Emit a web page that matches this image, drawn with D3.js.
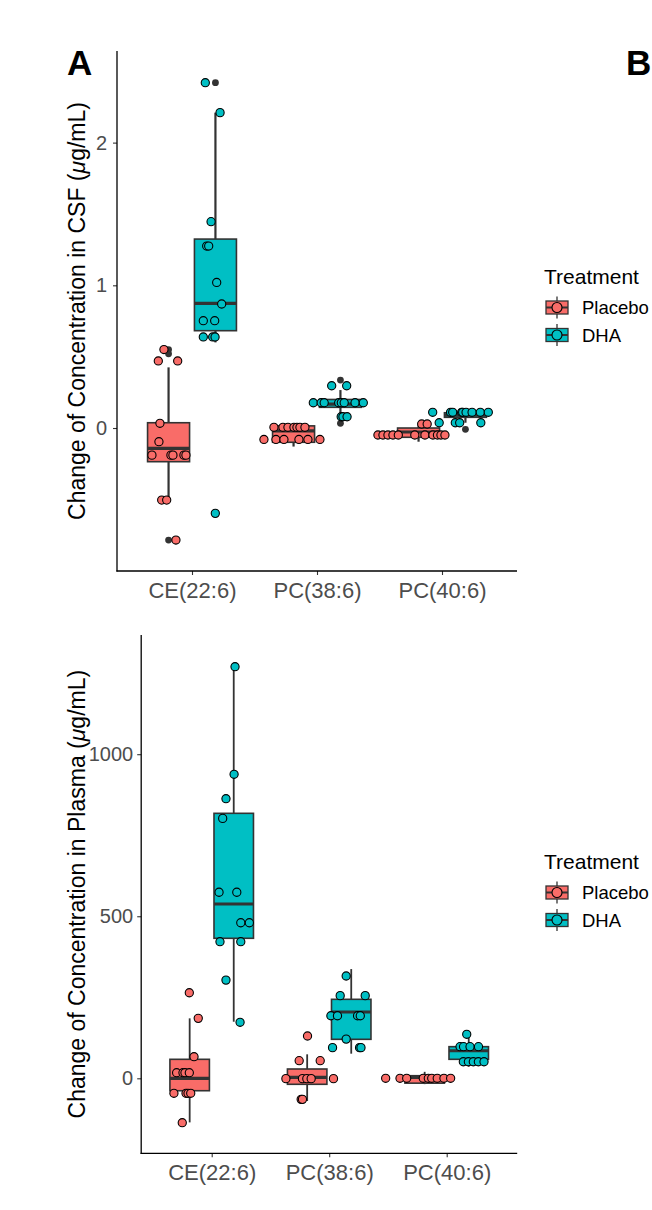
<!DOCTYPE html>
<html>
<head>
<meta charset="utf-8">
<script src="https://cdn.jsdelivr.net/npm/d3@7/dist/d3.min.js"></script>
<style>
  html, body { margin: 0; padding: 0; background: #fff; }
  svg { display: block; }
  text { font-family: "Liberation Sans", Arial, Helvetica, sans-serif; }
</style>
</head>
<body>
<svg id="chart" width="652" height="1210"></svg>
<script>
// ---------------- DATA ----------------
const categories = ["CE(22:6)", "PC(38:6)", "PC(40:6)"];
const treatments = ["Placebo", "DHA"];

// CSF panel: box stats [lowerWhisker, q1, median, q3, upperWhisker]
const csfPlaceboBox = [[-0.505, -0.236, -0.142, 0.037, 0.425], [-0.13, -0.1, -0.02, 0.015, 0.03], [-0.096, -0.065, -0.028, 0.0, 0.02]];
const csfDHABox = [[0.60, 0.682, 0.874, 1.324, 2.21], [0.068, 0.145, 0.168, 0.2, 0.266], [0.037, 0.075, 0.09, 0.107, 0.11]];
const csfPlaceboOutliers = [[0.55, 0.52, -0.785], [], []];
const csfDHAOutliers = [[2.42, -0.598], [0.336, 0.033], [-0.009]];
const csfPlaceboValues = [
  [0.55, 0.47, 0.47, 0.033, -0.096, -0.19, -0.19, -0.19, -0.19, -0.19, -0.505, -0.505, -0.785],
  [0.005, 0.005, 0.005, 0.005, 0.005, 0.005, 0.005, -0.08, -0.08, -0.08, -0.08, -0.08, -0.08],
  [-0.049, -0.049, -0.049, -0.049, -0.049, -0.049, -0.049, -0.049, -0.049, -0.049, -0.049, 0.028, 0.028]
];
const csfPlaceboJitter = [
  [-0.037, -0.082, 0.073, -0.069, -0.077, -0.133, 0.019, 0.035, 0.123, 0.139, -0.055, -0.015, 0.059],
  [-0.157, -0.085, -0.045, 0.003, 0.027, 0.051, 0.091, -0.237, -0.141, -0.077, 0.043, 0.115, 0.211],
  [-0.325, -0.285, -0.245, -0.205, -0.162, 0.051, 0.115, 0.151, 0.179, 0.211, -0.03, 0.025, 0.069]
];
const csfDHAValues = [
  [2.42, 2.21, 1.446, 1.275, 1.275, 1.02, 0.869, 0.752, 0.752, 0.638, 0.638, 0.638, -0.598],
  [0.296, 0.296, 0.177, 0.177, 0.177, 0.177, 0.177, 0.177, 0.177, 0.177, 0.079, 0.079, 0.079],
  [0.11, 0.11, 0.11, 0.11, 0.11, 0.11, 0.11, 0.11, 0.11, 0.037, 0.037, 0.037, 0.037]
];
const csfDHAJitter = [
  [-0.081, 0.037, -0.035, -0.07, -0.054, 0.01, 0.05, -0.097, -0.006, -0.097, -0.022, -0.003, -0.001],
  [-0.07, 0.05, -0.217, -0.154, -0.13, -0.014, 0.007, 0.03, 0.117, 0.183, 0.006, 0.02, 0.053],
  [-0.262, -0.119, -0.102, -0.03, -0.022, 0.005, 0.053, 0.119, 0.183, -0.21, -0.081, -0.046, 0.123]
];

// Plasma panel
const plasmaPlaceboBox = [[-136, -38.3, 0, 58.6, 185], [-70, -18.5, 3, 28.7, 74], [-18, -15, 3, 8, 20]];
const plasmaDHABox = [[174.6, 432, 537.8, 817.6, 1270], [76, 120.3, 204.6, 243.7, 337], [36, 58.6, 85, 97.6, 130]];
const plasmaPlaceboValues = [
  [264, 185, 66.7, 17.3, 17.3, 17.3, 17.3, -46.3, -46.3, -46.3, -46.3, -137],
  [130.5, 54.4, 54.4, -1, -1, -1, -1, -1, -65, -65],
  [0, 0, 0, 0, 0, 0, 0, 0, 0]
];
const plasmaPlaceboJitter = [
  [-0.003, 0.073, 0.037, -0.111, -0.057, -0.04, -0.003, -0.134, -0.031, -0.014, 0.009, -0.063],
  [0.003, -0.068, 0.111, -0.181, -0.04, -0.003, 0.034, 0.224, -0.051, -0.04],
  [-0.332, -0.21, -0.153, -0.012, 0.031, 0.06, 0.107, 0.164, 0.221]
];
const plasmaDHAValues = [
  [1270, 938, 862.7, 802, 574, 574, 480, 480, 421.5, 421.5, 303, 172.8],
  [315.6, 255, 255, 193, 193, 193, 193, 121, 94.6, 94.6, 94.6],
  [135.7, 97.6, 97.6, 97.6, 97.6, 51, 51, 51, 51, 51]
];
const plasmaDHAJitter = [
  [0.011, 0.003, -0.066, -0.094, -0.125, 0.026, 0.06, 0.133, -0.117, 0.06, -0.066, 0.054],
  [-0.043, -0.094, 0.119, -0.173, -0.117, 0.054, 0.077, -0.043, -0.159, 0.071, 0.083],
  [-0.017, -0.074, -0.044, 0.011, 0.083, -0.046, -0.003, 0.039, 0.082, 0.13]
];

const csfTicks = [0, 1, 2];
const plasmaTicks = [0, 500, 1000];

// ---------------- STYLE ----------------
const fillColor = { Placebo: "#F96C68", DHA: "#00BFC4" };
const darkGray = "#333333";
const tickGray = "#4D4D4D";

const svg = d3.select("#chart");

function drawPanel(cfg) {
  // ggplot discrete expansion: 0.6 units each side
  const xl = d3.scaleLinear().domain([0.4, 3.6]).range([cfg.left, cfg.right]);
  const xc = c => xl(categories.indexOf(c) + 1);
  const unit = xl(1) - xl(0);
  const y = d3.scaleLinear().domain(cfg.yDomain).range([cfg.bottom, cfg.top]);
  const dodge = { Placebo: -0.1875, DHA: 0.1875 };
  const boxHalf = cfg.boxWidth / 2;

  const g = svg.append("g");

  const groups = [];
  treatments.forEach(t => {
    categories.forEach((c, i) => {
      groups.push({
        t, c, i,
        box: cfg.box[t][i],
        out: cfg.out[t][i],
        vals: cfg.vals[t][i],
        jit: cfg.jit[t][i]
      });
    });
  });
  groups.sort((a, b) => a.i - b.i || treatments.indexOf(a.t) - treatments.indexOf(b.t));

  // Boxplot layer
  groups.forEach(gr => {
    const cx = xc(gr.c) + dodge[gr.t] * unit;
    const [lo, q1, med, q3, hi] = gr.box;
    const bg = g.append("g");
    bg.append("line").attr("x1", cx).attr("x2", cx).attr("y1", y(q3)).attr("y2", y(hi))
      .attr("stroke", darkGray).attr("stroke-width", cfg.whiskerWidth);
    bg.append("line").attr("x1", cx).attr("x2", cx).attr("y1", y(q1)).attr("y2", y(lo))
      .attr("stroke", darkGray).attr("stroke-width", cfg.whiskerWidth);
    bg.append("rect").attr("x", cx - boxHalf * unit).attr("width", 2 * boxHalf * unit)
      .attr("y", y(q3)).attr("height", Math.max(0.5, y(q1) - y(q3)))
      .attr("fill", fillColor[gr.t]).attr("stroke", darkGray).attr("stroke-width", 1.6);
    bg.append("line").attr("x1", cx - boxHalf * unit).attr("x2", cx + boxHalf * unit)
      .attr("y1", y(med)).attr("y2", y(med))
      .attr("stroke", darkGray).attr("stroke-width", 3.2);
    gr.out.forEach(v => {
      bg.append("circle").attr("cx", cx).attr("cy", y(v)).attr("r", 3.4).attr("fill", darkGray);
    });
  });

  // Jitter layer
  groups.forEach(gr => {
    const cx = xc(gr.c) + dodge[gr.t] * unit;
    gr.vals.forEach((v, k) => {
      g.append("circle").attr("cx", cx + gr.jit[k] * unit).attr("cy", y(v)).attr("r", 4.1)
        .attr("fill", fillColor[gr.t]).attr("stroke", "#000").attr("stroke-width", 1.1);
    });
  });

  // Axes
  const yAxis = d3.axisLeft(y).tickValues(cfg.ticks).tickSize(4).tickPadding(cfg.yPad).tickFormat(d3.format("d"));
  const ya = svg.append("g").attr("transform", `translate(${cfg.left},0)`).call(yAxis);
  ya.select(".domain").remove();
  ya.selectAll(".tick line").attr("stroke", darkGray).attr("stroke-width", 1.1);
  ya.selectAll(".tick text").attr("fill", tickGray).attr("font-size", 20)
    .attr("font-family", "'Liberation Sans', Arial, sans-serif");

  const xAxis = d3.axisBottom(xl).tickValues([1, 2, 3]).tickSize(4).tickPadding(7)
    .tickFormat(d => categories[d - 1]);
  const xa = svg.append("g").attr("transform", `translate(0,${cfg.bottom})`).call(xAxis);
  xa.select(".domain").remove();
  xa.selectAll(".tick line").attr("stroke", darkGray).attr("stroke-width", 1.1);
  xa.selectAll(".tick text").attr("fill", tickGray).attr("font-size", 22)
    .attr("font-family", "'Liberation Sans', Arial, sans-serif");

  // axis lines
  svg.append("line").attr("x1", cfg.left).attr("x2", cfg.left).attr("y1", cfg.top).attr("y2", cfg.bottom + 0.6)
    .attr("stroke", "#000").attr("stroke-width", 1.3);
  svg.append("line").attr("x1", cfg.left - 0.6).attr("x2", cfg.right).attr("y1", cfg.bottom).attr("y2", cfg.bottom)
    .attr("stroke", "#000").attr("stroke-width", 1.3);

  // y title
  const cy = (cfg.top + cfg.bottom) / 2;
  const tt = svg.append("text").attr("transform", `translate(84.5,${cy}) rotate(-90)`)
    .attr("text-anchor", "middle").attr("font-size", 23).attr("fill", "#000");
  tt.append("tspan").text(cfg.title + " (");
  tt.append("tspan").attr("font-style", "italic").text("\u03BC");
  tt.append("tspan").text("g/mL)");

  // legend
  const lg = svg.append("g");
  lg.append("text").attr("x", 544).attr("y", cfg.legendTop).attr("font-size", 21).attr("fill", "#000").text("Treatment");
  treatments.forEach((t, k) => {
    const kcy = cfg.legendTop + 23.5 + k * 27.5;
    const kx = 557;
    lg.append("line").attr("x1", kx).attr("x2", kx).attr("y1", kcy - 11).attr("y2", kcy + 11)
      .attr("stroke", darkGray).attr("stroke-width", 1.3);
    lg.append("rect").attr("x", kx - 11).attr("y", kcy - 6.5).attr("width", 22).attr("height", 13)
      .attr("fill", fillColor[t]).attr("stroke", darkGray).attr("stroke-width", 1.3);
    lg.append("line").attr("x1", kx - 11).attr("x2", kx + 11).attr("y1", kcy).attr("y2", kcy)
      .attr("stroke", darkGray).attr("stroke-width", 2);
    lg.append("circle").attr("cx", kx).attr("cy", kcy).attr("r", 5)
      .attr("fill", fillColor[t]).attr("stroke", "#000").attr("stroke-width", 1.1);
    lg.append("text").attr("x", 582).attr("y", kcy + 6.6).attr("font-size", 18.5).attr("fill", "#000").text(t);
  });
}

drawPanel({
  left: 117, right: 517, top: 51, bottom: 571,
  yDomain: [-1.002, 2.642],
  ticks: csfTicks, yPad: 6, boxWidth: 0.336, whiskerWidth: 2.2,
  title: "Change of Concentration in CSF",
  box: { Placebo: csfPlaceboBox, DHA: csfDHABox },
  out: { Placebo: csfPlaceboOutliers, DHA: csfDHAOutliers },
  vals: { Placebo: csfPlaceboValues, DHA: csfDHAValues },
  jit: { Placebo: csfPlaceboJitter, DHA: csfDHAJitter },
  legendTop: 284
});

drawPanel({
  left: 141.2, right: 517.2, top: 635, bottom: 1153.3,
  yDomain: [-231.4, 1367.8],
  ticks: plasmaTicks, yPad: 4, boxWidth: 0.336, whiskerWidth: 1.8,
  title: "Change of Concentration in Plasma",
  box: { Placebo: plasmaPlaceboBox, DHA: plasmaDHABox },
  out: { Placebo: [[], [], []], DHA: [[], [], []] },
  vals: { Placebo: plasmaPlaceboValues, DHA: plasmaDHAValues },
  jit: { Placebo: plasmaPlaceboJitter, DHA: plasmaDHAJitter },
  legendTop: 869
});

// panel letters
svg.append("text").attr("x", 67).attr("y", 75).attr("font-size", 35).attr("font-weight", "bold").attr("fill", "#000").text("A");
svg.append("text").attr("x", 626).attr("y", 75).attr("font-size", 35).attr("font-weight", "bold").attr("fill", "#000").text("B");
</script>
</body>
</html>
